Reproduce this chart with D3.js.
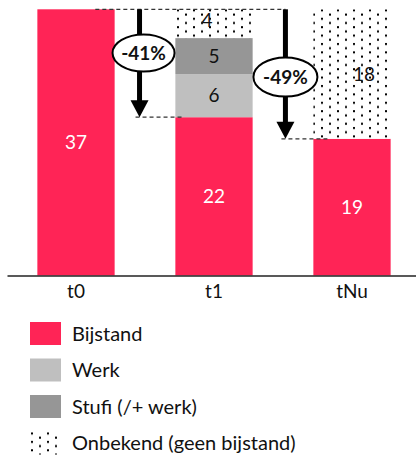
<!DOCTYPE html>
<html lang="en">
<head>
<meta charset="UTF-8">
<title>Bijstand t0 t1 tNu</title>
<style>
  body { margin: 0; background: #fff; }
  svg text { font-family: Lato, "Open Sans", sans-serif; }
</style>
</head>
<body>
<svg id="chart"></svg>
<script src="https://cdn.jsdelivr.net/npm/d3@7"></script>
<script>
// data
var categories = ["t0", "t1", "tNu"];
var bijstand = [37, 22, 19];
var werk = [0, 6, 0];
var stufi = [0, 5, 0];
var onbekend = [0, 4, 18];
var seriesNames = ["Bijstand", "Werk", "Stufi (/+ werk)", "Onbekend (geen bijstand)"];
// arrows: from total at t0 down to bijstand at target
var arrowTargets = ["t1", "tNu"];
var arrowLabels = ["-41%", "-49%"];

var width = 416, height = 455;
var pink = "#ff2456";
var colors = [pink, "#bfbfbf", "#969696", "url(#dots)"];
var keys = ["bijstand", "werk", "stufi", "onbekend"];

var rows = categories.map(function(c, i) {
  return { cat: c, bijstand: bijstand[i], werk: werk[i], stufi: stufi[i], onbekend: onbekend[i] };
});

var svg = d3.select("#chart").attr("width", width).attr("height", height);

var defs = svg.append("defs");
var pat = defs.append("pattern")
  .attr("id", "dots")
  .attr("patternUnits", "userSpaceOnUse")
  .attr("width", 16).attr("height", 8.4);
pat.append("rect").attr("width", 16).attr("height", 8.4).attr("fill", "#fff");
pat.append("rect").attr("x", 1).attr("y", 1).attr("width", 2).attr("height", 2).attr("fill", "#000");
pat.append("rect").attr("x", 9).attr("y", 5.2).attr("width", 2).attr("height", 2).attr("fill", "#000");

var x = d3.scaleBand()
  .domain(categories)
  .range([7, 421])
  .paddingInner(0.44)
  .paddingOuter(0.22);

var y = d3.scaleLinear()
  .domain([0, 37])
  .range([275.5, 9.3]);

var stack = d3.stack().keys(keys);
var stacked = stack(rows);

var g = svg.append("g");

var layers = g.selectAll("g.layer")
  .data(stacked)
  .enter().append("g")
  .attr("class", "layer")
  .attr("fill", function(d, i) { return colors[i]; });

layers.selectAll("rect")
  .data(function(d) { return d; })
  .enter().append("rect")
  .filter(function(d) { return d[1] - d[0] > 0; })
  .attr("x", function(d) { return x(d.data.cat); })
  .attr("y", function(d) { return y(d[1]); })
  .attr("width", x.bandwidth())
  .attr("height", function(d) { return y(d[0]) - y(d[1]); });

// value labels
var labelShift = { "onbekend-t1": -7, "onbekend-tNu": 12, "onbekend-t1y": -4 };
stacked.forEach(function(layer, li) {
  layer.forEach(function(d) {
    var v = d[1] - d[0];
    if (v <= 0) return;
    var key = layer.key + "-" + d.data.cat;
    g.append("text")
      .attr("x", x(d.data.cat) + x.bandwidth() / 2 + (labelShift[key] || 0))
      .attr("y", (y(d[0]) + y(d[1])) / 2 + (labelShift[key + "y"] || 0))
      .attr("dy", "0.36em")
      .attr("text-anchor", "middle")
      .attr("font-size", "19px")
      .attr("fill", li === 0 ? "#fff" : "#111")
      .text(v);
  });
});

// axis
var xAxis = d3.axisBottom(x).tickSize(0).tickPadding(9);
var ax = svg.append("g")
  .attr("transform", "translate(0," + y(0) + ")")
  .call(xAxis);
ax.select(".domain").attr("stroke", "#222").attr("stroke-width", 1.6);
ax.selectAll("text")
  .attr("font-family", "Lato, sans-serif")
  .attr("font-size", "19px")
  .attr("fill", "#111");

// annotations
var total0 = bijstand[0] + werk[0] + stufi[0] + onbekend[0];
var bw = x.bandwidth();
var ann = svg.append("g");

// top dashed line
var arrowX = [
  x("t0") + bw + (x("t1") - x("t0") - bw) * 0.41,
  x("t1") + bw + (x("tNu") - x("t1") - bw) * 0.54
];
ann.append("line")
  .attr("x1", x("t0") + bw * 0.75).attr("x2", arrowX[1])
  .attr("y1", y(total0)).attr("y2", y(total0))
  .attr("stroke", "#333").attr("stroke-width", 1.3)
  .attr("stroke-dasharray", "4,3");

var ellipseY = [53, 77];
arrowTargets.forEach(function(t, i) {
  var ti = categories.indexOf(t);
  var ax0 = arrowX[i];
  var yEnd = y(bijstand[ti]);
  // bottom dashed line
  ann.append("line")
    .attr("x1", ax0 - 4).attr("x2", x(t) + (i === 0 ? 9 : 14))
    .attr("y1", yEnd).attr("y2", yEnd)
    .attr("stroke", "#333").attr("stroke-width", 1.3)
    .attr("stroke-dasharray", "4,3");
  // shaft
  ann.append("line")
    .attr("x1", ax0).attr("x2", ax0)
    .attr("y1", y(total0)).attr("y2", yEnd - 15)
    .attr("stroke", "#000").attr("stroke-width", 5);
  // head
  ann.append("path")
    .attr("d", "M" + (ax0 - 9) + "," + (yEnd - 17) + "L" + (ax0 + 9) + "," + (yEnd - 17) + "L" + ax0 + "," + yEnd + "Z")
    .attr("fill", "#000");
  // label
  var cx = ax0 + (i === 0 ? 4 : 0);
  ann.append("ellipse")
    .attr("cx", cx).attr("cy", ellipseY[i])
    .attr("rx", i === 0 ? 31 : 32).attr("ry", i === 0 ? 18.5 : 19.5)
    .attr("fill", "#fff").attr("stroke", "#000").attr("stroke-width", 2);
  ann.append("text")
    .attr("x", cx).attr("y", ellipseY[i])
    .attr("dy", "0.36em")
    .attr("text-anchor", "middle")
    .attr("font-size", "19px")
    .attr("font-weight", "bold")
    .attr("fill", "#111")
    .text(arrowLabels[i]);
});

// legend
var legend = svg.append("g").attr("transform", "translate(30,322)");
seriesNames.forEach(function(name, i) {
  var row = legend.append("g").attr("transform", "translate(0," + (i * 36.5) + ")");
  row.append("rect")
    .attr("width", 31).attr("height", 23)
    .attr("fill", colors[i]);
  row.append("text")
    .attr("x", 42).attr("y", 11.5)
    .attr("dy", "0.36em")
    .attr("font-size", "20px")
    .attr("fill", "#111")
    .text(name);
});
</script>
</body>
</html>
